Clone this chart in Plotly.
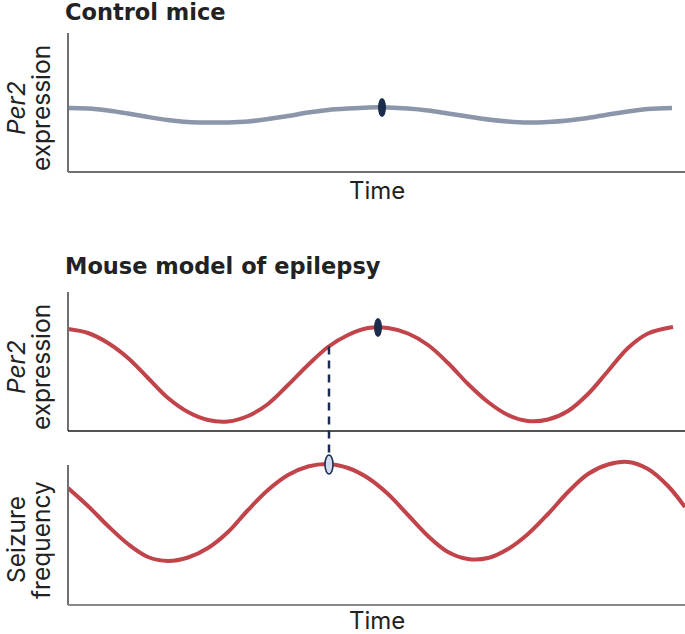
import plotly.graph_objects as go

# ---------------- data (arbitrary units) ----------------
time_control = [0, 2, 4, 6, 8, 10, 12, 14, 16, 18, 20, 22, 24, 26, 28, 30, 32, 34, 36, 38, 40, 42, 44, 46, 48, 50, 52, 54, 56, 58, 60.4]
per2_control = [6.4, 6.35, 6.15, 5.85, 5.5, 5.2, 5.0, 4.95, 4.95, 5.05, 5.3, 5.6, 5.95, 6.2, 6.35, 6.45, 6.45, 6.35, 6.15,
                5.85, 5.55, 5.25, 5.05, 4.95, 5.0, 5.15, 5.4, 5.75, 6.05, 6.3, 6.4]

time_epi = [0, 2, 4, 6, 8, 10, 12, 14, 16, 18, 20, 22, 24, 26, 28, 30, 32, 34, 36, 38, 40, 42, 44, 46, 48, 50, 52, 54, 56, 58, 60.5]
per2_epi = [10.2, 9.8, 8.8, 7.3, 5.3, 3.3, 1.9, 1.1, 0.95, 1.5, 2.7, 4.6, 6.6, 8.4, 9.6, 10.3, 10.3, 9.75, 8.6, 6.8,
            4.7, 2.9, 1.6, 1.0, 1.15, 2.0, 3.7, 6.0, 8.3, 9.75, 10.4]

time_seiz = [0, 2, 4, 6, 8, 10, 12, 14, 16, 18, 20, 22, 24, 26, 28, 30, 32, 34, 36, 38, 40, 42, 44, 46, 48, 50, 52, 54, 56, 58, 60, 61.7]
seizure_freq = [11.7, 9.9, 7.9, 6.1, 4.8, 4.4, 4.75, 5.7, 7.3, 9.5, 11.5, 13.0, 13.85, 14.1, 13.7, 12.7, 11.1, 9.0, 6.9,
                5.3, 4.6, 4.7, 5.6, 7.1, 9.1, 11.3, 13.1, 14.05, 14.3, 13.6, 11.9, 9.8]

marker_control = (31.4, 6.45)
marker_epi = (31.0, 10.35)
marker_seiz = (26.1, 14.05)
link_time = 26.1
link_per2 = 8.45

titles = ["Control mice", "Mouse model of epilepsy"]
x_label = "Time"

# ---------------- styling / layout ----------------
W, H = 685, 634
RED = "#c1444b"
GREY = "#8c96ab"
NAVY = "#1b2d4d"
LIGHT = "#d3ddef"
AXIS = "#707070"
TXT = "#222222"
LABEL_FONT = "Inter"
TITLE_FONT = "DejaVu Sans"

X_MAX = 61.7
# panels: (axis-bottom px, domain-top px, axis-line-top px)
panels = [(172, 28, 33), (431, 288, 292), (605, 452, 465)]


def py(p):
    return 1 - p / H


def px(p):
    return p / W


fig = go.Figure()

series = [(time_control, per2_control, GREY, 4.5),
          (time_epi, per2_epi, RED, 4),
          (time_seiz, seizure_freq, RED, 4)]
for i, (t, v, col, w) in enumerate(series):
    sfx = "" if i == 0 else str(i + 1)
    fig.add_trace(go.Scatter(x=t, y=v, mode="lines", line=dict(color=col, width=w, shape="spline", smoothing=1.0),
                             xaxis="x" + sfx, yaxis="y" + sfx, hoverinfo="skip", showlegend=False))

layout = dict(width=W, height=H, margin=dict(l=0, r=0, t=0, b=0),
              paper_bgcolor="white", plot_bgcolor="white", showlegend=False)
for i, (B, T, A) in enumerate(panels):
    sfx = "" if i == 0 else str(i + 1)
    layout["xaxis" + sfx] = dict(domain=[px(68), 1], range=[0, X_MAX], showgrid=False, zeroline=False,
                                 showticklabels=False, ticks="", showline=False,
                                 anchor="y" + sfx, fixedrange=True)
    layout["yaxis" + sfx] = dict(domain=[py(B), py(T)], range=[0, (B - T) / 10], showgrid=False, zeroline=False,
                                 showticklabels=False, ticks="", showline=False,
                                 anchor="x" + sfx, fixedrange=True)
fig.update_layout(**layout)

shapes = []
# axis lines
xcols = [AXIS, "#1a1a1a", "#888888"]
xw = [2, 1.5, 2]
for i, (B, T, A) in enumerate(panels):
    shapes.append(dict(type="line", xref="paper", yref="paper", x0=px(68), x1=px(68), y0=py(B), y1=py(A),
                       line=dict(color=AXIS, width=2)))
    shapes.append(dict(type="line", xref="paper", yref="paper", x0=px(68), x1=1, y0=py(B), y1=py(B),
                       line=dict(color=xcols[i], width=xw[i])))

# dashed link from Per2 curve to seizure peak
B2 = panels[1][0]
B3 = panels[2][0]
y_start = py(B2 - link_per2 * 10)
y_end = py(B3 - marker_seiz[1] * 10 - 9.5)
shapes.append(dict(type="line", xref="x3", yref="paper", x0=link_time, x1=link_time, y0=y_start, y1=y_end,
                   line=dict(color=NAVY, width=2.5, dash="8px,6px")))

# ellipse markers
for (t, v), xr, yr, fill, lw in [(marker_control, "x", "y", NAVY, 0),
                                 (marker_epi, "x2", "y2", NAVY, 0),
                                 (marker_seiz, "x3", "y3", LIGHT, 1.6)]:
    shapes.append(dict(type="circle", xref=xr, yref=yr, xsizemode="pixel", ysizemode="pixel",
                       xanchor=t, yanchor=v, x0=-4, x1=4, y0=-9.5, y1=9.5,
                       fillcolor=fill, line=dict(color=NAVY, width=lw), layer="above"))
fig.update_layout(shapes=shapes)

ann = []
# titles
ann.append(dict(text="<b>" + titles[0] + "</b>", x=px(63), y=py(12), xref="paper", yref="paper",
                xanchor="left", yanchor="middle", showarrow=False,
                font=dict(family=TITLE_FONT, size=22.5, color=TXT)))
ann.append(dict(text="<b>" + titles[1] + "</b>", x=px(63), y=py(266), xref="paper", yref="paper",
                xanchor="left", yanchor="middle", showarrow=False,
                font=dict(family=TITLE_FONT, size=22.5, color=TXT)))
# y labels (rotated)
ylabels = [("<i>Per2</i>", "expression", 108), ("<i>Per2</i>", "expression", 367), ("Seizure", "frequency", 540)]
for l1, l2, yc in ylabels:
    ann.append(dict(text=l1, x=px(16), y=py(yc), xref="paper", yref="paper", textangle=-90,
                    xanchor="center", yanchor="middle", showarrow=False,
                    font=dict(family=LABEL_FONT, size=24.5, color=TXT)))
    ann.append(dict(text=l2, x=px(41), y=py(yc), xref="paper", yref="paper", textangle=-90,
                    xanchor="center", yanchor="middle", showarrow=False,
                    font=dict(family=LABEL_FONT, size=24.5, color=TXT)))
# x labels
ann.append(dict(text=x_label, x=px(377), y=py(190), xref="paper", yref="paper",
                xanchor="center", yanchor="middle", showarrow=False,
                font=dict(family=LABEL_FONT, size=24, color=TXT)))
ann.append(dict(text=x_label, x=px(377), y=0, xref="paper", yref="paper",
                xanchor="center", yanchor="bottom", yshift=-3, showarrow=False,
                font=dict(family=LABEL_FONT, size=24, color=TXT)))
fig.update_layout(annotations=ann)

fig.write_html("out.html", config={"displayModeBar": False},
               post_script="document.body.style.margin='0';document.body.style.padding='0';"
                           "document.body.style.overflow='hidden';")
